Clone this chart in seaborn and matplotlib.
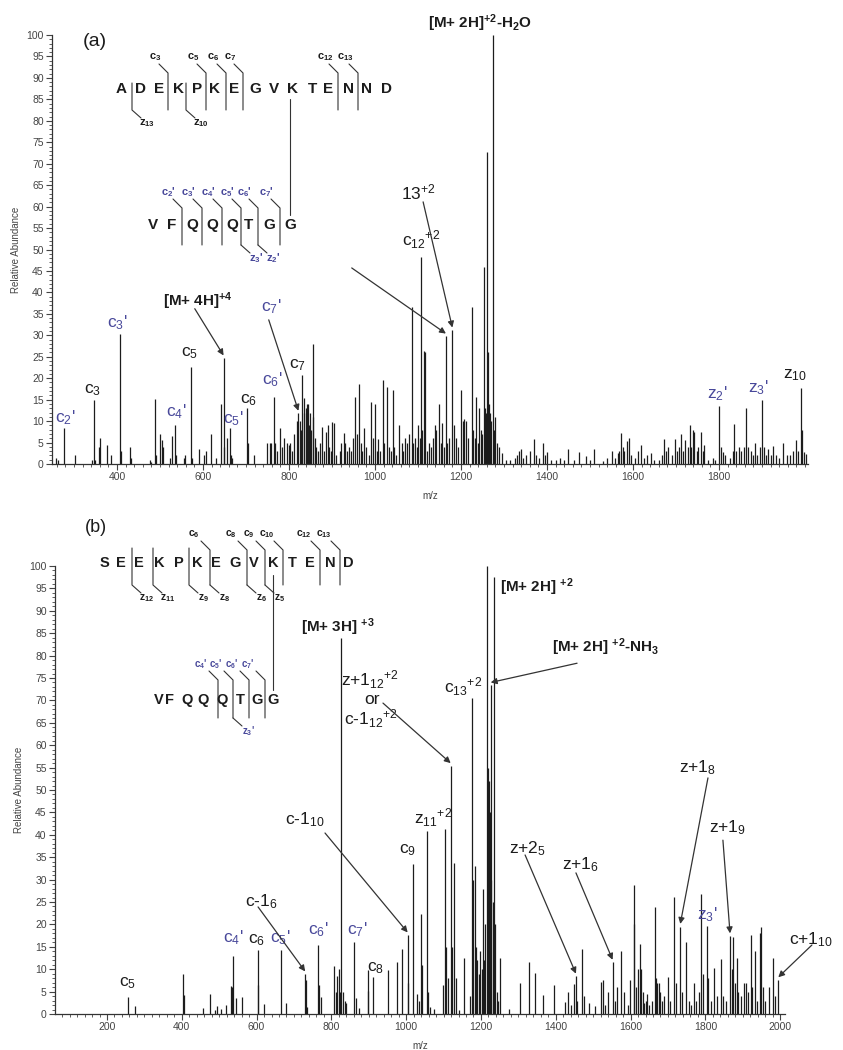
import numpy as np
import pandas as pd
import matplotlib
matplotlib.use("Agg")
import matplotlib.pyplot as plt
from matplotlib.lines import Line2D
from matplotlib.ticker import MultipleLocator, FixedLocator
import seaborn as sns

# panel (a): m/z and relative abundance of the sticks
mz_a = [259, 263, 277, 302, 343, 346, 349, 358, 360, 376, 386, 407, 409, 430, 432, 477, 480,
        489, 491, 500, 505, 507, 523, 528, 535, 537, 556, 558, 573, 575, 591, 602, 608, 619, 631,
        643, 648, 650, 657, 662, 665, 668, 703, 705, 719, 748, 755, 759, 765, 767, 773, 779, 783,
        789, 795, 800, 803, 808, 812, 819, 822, 826, 828, 831, 834, 836, 839, 841, 844, 846, 849,
        852, 855, 857, 860, 864, 868, 873, 878, 882, 885, 890, 893, 897, 901, 905, 910, 918, 922,
        927, 931, 935, 940, 945, 950, 954, 958, 963, 967, 971, 975, 980, 985, 991, 995, 1000,
        1004, 1008, 1012, 1018, 1022, 1028, 1033, 1037, 1041, 1045, 1050, 1057, 1062, 1066, 1070,
        1075, 1080, 1085, 1088, 1093, 1097, 1100, 1104, 1108, 1110, 1113, 1116, 1120, 1125, 1130,
        1135, 1140, 1143, 1149, 1153, 1156, 1160, 1165, 1168, 1172, 1180, 1184, 1188, 1193, 1200,
        1204, 1208, 1212, 1216, 1225, 1228, 1232, 1236, 1240, 1243, 1246, 1249, 1253, 1256, 1258,
        1261, 1263, 1266, 1268, 1270, 1274, 1277, 1279, 1283, 1288, 1296, 1305, 1315, 1325, 1330,
        1336, 1340, 1345, 1352, 1360, 1370, 1375, 1382, 1390, 1395, 1400, 1410, 1420, 1430, 1440,
        1450, 1462, 1475, 1490, 1500, 1509, 1530, 1540, 1551, 1558, 1565, 1568, 1573, 1576, 1580,
        1585, 1591, 1595, 1605, 1612, 1618, 1625, 1632, 1641, 1650, 1660, 1667, 1673, 1677, 1682,
        1690, 1697, 1703, 1708, 1712, 1717, 1721, 1728, 1732, 1736, 1740, 1743, 1748, 1752, 1758,
        1762, 1766, 1775, 1785, 1790, 1801, 1804, 1810, 1815, 1825, 1832, 1836, 1840, 1846, 1852,
        1858, 1863, 1868, 1875, 1880, 1884, 1889, 1895, 1900, 1904, 1910, 1915, 1920, 1925, 1932,
        1940, 1950, 1958, 1965, 1972, 1979, 1984, 1990, 1993, 1998, 2003]
int_a = [1.4, 1.0, 8.4, 2.0, 1.0, 15.0, 1.0, 4.0, 6.0, 4.5, 2.0, 30.3, 3.0, 4.0, 1.5, 1.0, 0.5,
         15.2, 2.0, 7.0, 5.5, 4.0, 1.5, 6.5, 9.2, 2.0, 1.5, 2.0, 22.5, 1.5, 3.5, 2.0, 3.0, 7.0, 1.5,
         14.0, 24.7, 4.0, 6.0, 8.5, 2.0, 1.5, 13.0, 5.0, 2.0, 5.0, 5.0, 5.0, 15.7, 5.0, 3.0, 8.5, 4.0,
         6.0, 5.0, 4.5, 5.0, 3.0, 7.0, 10.0, 11.8, 10.0, 8.0, 20.8, 12.0, 15.3, 13.0, 14.0, 14.0, 9.0, 12.0,
         8.0, 28.0, 11.0, 6.0, 4.0, 3.0, 5.0, 8.7, 3.0, 7.5, 9.0, 4.0, 3.0, 9.8, 9.5, 2.0, 3.0, 5.0,
         7.3, 5.0, 3.0, 4.0, 3.0, 6.0, 15.7, 7.0, 18.7, 5.0, 3.0, 8.3, 4.0, 2.0, 14.5, 6.0, 14.0,
         3.0, 5.8, 3.0, 19.5, 5.0, 18.0, 4.0, 3.0, 17.3, 4.0, 2.0, 9.0, 5.0, 3.0, 6.0,
         5.0, 7.0, 36.5, 5.0, 6.0, 4.0, 9.2, 6.0, 48.3, 8.0, 26.4, 26.0, 3.0, 5.0, 4.0,
         6.0, 9.0, 8.0, 14.0, 5.0, 9.5, 4.0, 29.8, 5.0, 6.0, 31.2, 9.0, 6.0, 4.0, 17.3,
         10.0, 10.5, 10.0, 6.0, 36.7, 8.0, 6.0, 15.6, 5.0, 13.0, 8.0, 7.0, 46.0, 13.0, 12.0,
         72.8, 26.0, 14.0, 12.0, 10.0, 100.0, 8.0, 11.0, 5.0, 4.0, 2.5, 1.0, 1.0, 1.5, 2.0,
         3.0, 3.5, 1.5, 2.0, 3.0, 5.8, 2.0, 1.5, 4.8, 2.0, 2.8, 1.0, 1.0, 1.5, 1.0,
         3.5, 1.0, 2.8, 1.8, 1.0, 3.6, 0.8, 1.5, 3.0, 1.5, 2.5, 3.0, 7.2, 4.0, 3.0,
         5.3, 6.0, 2.0, 1.5, 3.0, 4.5, 1.5, 2.0, 2.5, 1.0, 1.0, 2.0, 5.8, 3.0, 4.0,
         2.0, 5.8, 3.0, 4.0, 7.0, 3.0, 5.6, 4.0, 9.1, 4.0, 8.0, 7.5, 3.0, 4.0, 7.5,
         3.0, 4.5, 1.0, 1.5, 1.0, 13.5, 4.0, 2.8, 2.0, 1.5, 3.0, 9.3, 3.0, 4.0, 3.0,
         4.0, 13.1, 4.0, 3.0, 2.0, 5.0, 2.0, 4.0, 14.9, 4.0, 2.0, 3.6, 2.0, 4.2, 2.0,
         1.5, 5.0, 2.0, 2.0, 3.0, 5.5, 3.0, 17.8, 8.0, 2.8, 2.3]

# panel (b)
mz_b = [255, 275, 402, 405, 456, 475, 490, 495, 505, 517, 531, 533, 537, 545, 560, 604, 605, 620,
        664, 680, 730, 732, 734, 765, 767, 773, 806, 812, 815, 820, 822, 827, 831, 836, 840, 861,
        865, 875, 897, 899, 910, 951, 975, 990, 1004, 1006, 1018, 1030, 1035, 1040, 1043, 1055,
        1058, 1065, 1075, 1098, 1104, 1107, 1112, 1119, 1122, 1128, 1133, 1140, 1155, 1170, 1176,
        1180, 1183, 1186, 1190, 1194, 1198, 1202, 1206, 1209, 1212, 1215, 1219, 1222, 1224, 1226,
        1228, 1231, 1234, 1238, 1242, 1245, 1252, 1275, 1304, 1329, 1345, 1367, 1395, 1425, 1433,
        1440, 1448, 1454, 1458, 1470, 1475, 1490, 1505, 1520, 1526, 1533, 1540, 1552, 1558, 1564,
        1574, 1583, 1592, 1598, 1608, 1610, 1614, 1620, 1625, 1628, 1632, 1636, 1640, 1645, 1650,
        1658, 1665, 1668, 1672, 1676, 1680, 1685, 1690, 1699, 1705, 1717, 1722, 1733, 1738, 1748,
        1755, 1762, 1770, 1775, 1783, 1789, 1793, 1805, 1808, 1815, 1823, 1830, 1841, 1848, 1855,
        1866, 1870, 1874, 1879, 1884, 1888, 1895, 1903, 1908, 1915, 1922, 1926, 1932, 1937, 1945,
        1949, 1953, 1960, 1970, 1980, 1985, 1995]
int_b = [3.7, 1.8, 8.9, 4.3, 1.3, 4.5, 1.0, 1.7, 1.2, 2.0, 6.2, 6.0, 13.0, 3.5, 3.7, 6.5, 14.3, 2.2,
         14.2, 2.5, 8.9, 7.5, 1.5, 15.4, 6.5, 3.7, 10.7, 5.0, 8.5, 10.0, 5.0, 84.0, 5.0, 3.0, 2.5, 16.1,
         3.5, 1.3, 9.8, 5.2, 8.3, 9.8, 11.5, 14.6, 17.6, 7.0, 33.4, 4.5, 3.0, 22.3, 11.0, 40.8,
         5.0, 1.5, 1.2, 6.5, 41.3, 15.0, 8.0, 55.4, 15.0, 33.6, 8.0, 1.0, 12.6, 4.0, 70.5,
         30.0, 33.0, 15.0, 12.0, 9.0, 14.0, 10.0, 28.0, 12.0, 20.0, 100.0, 55.0, 52.0, 45.0, 73.4,
         30.0, 25.0, 97.6, 20.0, 5.0, 3.0, 12.4, 1.2, 7.0, 11.7, 9.2, 4.3, 6.4, 2.6, 5.0,
         2.0, 6.8, 8.4, 3.0, 14.4, 4.0, 2.5, 1.8, 7.2, 7.7, 2.0, 5.0, 11.5, 3.0, 6.0,
         14.0, 5.0, 2.0, 7.5, 28.8, 20.0, 6.0, 10.0, 15.7, 10.0, 5.0, 2.5, 3.0, 4.5, 2.0,
         3.0, 23.8, 8.0, 7.0, 7.0, 5.0, 3.0, 4.0, 8.3, 3.0, 26.2, 7.0, 19.5, 5.0, 16.1,
         3.0, 2.0, 7.0, 3.0, 5.0, 26.8, 9.0, 19.7, 8.0, 3.0, 10.3, 4.0, 12.3, 4.0, 3.0,
         17.4, 10.0, 17.2, 7.0, 12.5, 5.0, 4.0, 7.0, 7.0, 5.0, 17.6, 6.0, 14.0, 3.0, 18.0,
         19.5, 6.0, 3.0, 6.0, 12.6, 4.0, 7.6]

seq_a_top = list("ADEKPKEGVKTENND")
seq_a_link = list("VFQQQTGG")
seq_b_top = list("SEEKPKEGVKTEND")
seq_b_link = list("VFQQQTGG")

W, H = 843, 1050
INK = "#1c1c1c"
BLUE = "#48489a"
GREY = "#333333"


def fig_line(fig, pts, color=GREY, lw=0.8):
    xs = [p[0] / W for p in pts]
    ys = [1 - p[1] / H for p in pts]
    fig.add_artist(Line2D(xs, ys, transform=fig.transFigure, color=color, lw=lw))


def fig_text(fig, px, py, s, **kw):
    fig.text(px / W, 1 - py / H, s, ha=kw.pop("ha", "center"), va=kw.pop("va", "center"), **kw)


def peptide(fig, letters, xs, y, fs):
    for s, x in zip(letters, xs):
        fig_text(fig, x, y, s, fontsize=fs, fontweight="bold", color=INK)


def c_cut(fig, x, top, bottom, label, color=INK, dx=-15, fs=8):
    fig_line(fig, [(x - 9, top - 9), (x, top), (x, bottom)])
    fig_text(fig, x + dx, top - 16, label, fontsize=fs, fontweight="bold", color=color)


def z_cut(fig, x, top, bottom, label, color=INK, fs=8):
    fig_line(fig, [(x, top), (x, bottom), (x + 9, bottom + 8)])
    fig_text(fig, x + 15, bottom + 13, label, fontsize=fs, fontweight="bold", color=color)


def peak_tip(mzs, ints, target):
    i = int(np.argmin(np.abs(np.asarray(mzs) - target)))
    return mzs[i], ints[i] + 0.6


def arrow(ax, start, mzs, ints, target):
    ax.annotate("", xy=peak_tip(mzs, ints, target), xytext=start,
                arrowprops=dict(arrowstyle="-|>", color=GREY, lw=0.9, mutation_scale=9,
                                shrinkA=0, shrinkB=0), annotation_clip=False)


def style_axis(ax, xlim, xticks):
    ax.set_xlim(*xlim)
    ax.set_ylim(0, 100)
    ax.xaxis.set_major_locator(FixedLocator(xticks))
    ax.xaxis.set_minor_locator(MultipleLocator(20))
    ax.yaxis.set_major_locator(MultipleLocator(5))
    ax.yaxis.set_minor_locator(MultipleLocator(1))
    ax.tick_params(which="major", length=4, width=0.8, labelsize=7.5, colors="#444444", pad=2)
    ax.tick_params(which="minor", length=2.5, width=0.6, colors="#444444")
    ax.set_ylabel("Relative Abundance", fontsize=7, color="#444444", labelpad=4)
    ax.set_xlabel("m/z", fontsize=7, color="#444444", labelpad=6)
    sns.despine(ax=ax)
    for sp in ("left", "bottom"):
        ax.spines[sp].set_color("#333333")
        ax.spines[sp].set_linewidth(0.9)


def label(ax, s, x, y, color=INK, fs=12.5, weight="normal"):
    ax.text(x, y, s, ha="center", va="center", fontsize=fs, color=color,
            fontweight=weight, clip_on=False)


def main():
    sns.set_theme(style="ticks")
    plt.rcParams["font.family"] = ["Liberation Sans", "DejaVu Sans"]
    plt.rcParams["mathtext.default"] = "regular"

    df_a = pd.DataFrame({"mz": mz_a, "abundance": int_a})
    df_b = pd.DataFrame({"mz": mz_b, "abundance": int_b})

    fig = plt.figure(figsize=(W / 100, H / 100), dpi=100)
    ax_a = fig.add_axes([52 / W, 1 - 464 / H, 756 / W, 429 / H])
    ax_b = fig.add_axes([55 / W, 1 - 1014 / H, 730 / W, 448 / H])

    ax_a.vlines(df_a["mz"], 0, df_a["abundance"], color=INK, lw=0.9)
    ax_b.vlines(df_b["mz"], 0, df_b["abundance"], color=INK, lw=0.9)
    style_axis(ax_a, (249, 2007), range(400, 1801, 200))
    style_axis(ax_b, (61, 2013), range(200, 2001, 200))

    # ---- panel (a) ----
    fig_text(fig, 83, 42, "(a)", ha="left", fontsize=14, color=INK)
    peptide(fig, seq_a_top, [121, 141, 159, 179, 197, 215, 234, 255, 274, 292, 312, 328, 348, 367, 387], 89, 11)
    for x, s in [(168, "3"), (206, "5"), (226, "6"), (243, "7"), (338, "12"), (358, "13")]:
        c_cut(fig, x, 73, 110, "c$_{%s}$" % s, dx=-13)
    for x, s in [(132, "13"), (186, "10")]:
        z_cut(fig, x, 83, 110, "z$_{%s}$" % s)
    fig_line(fig, [(290, 99), (290, 215)])
    peptide(fig, seq_a_link, [153, 172, 192, 212, 232, 249, 269, 290], 225, 11)
    for x, s in zip([182, 202, 222, 241, 258, 280], "234567"):
        c_cut(fig, x, 208, 245, "c$_{%s}$'" % s, color=BLUE, dx=-14)
    z_cut(fig, 241, 245, 245, "z$_3$'", color=BLUE)
    z_cut(fig, 258, 245, 245, "z$_2$'", color=BLUE)

    for s, x, y, c in [("c$_2$'", 279, 10.7, BLUE), ("c$_3$", 344, 17.2, INK),
                       ("c$_3$'", 400, 32.9, BLUE), ("c$_4$'", 537, 12.1, BLUE),
                       ("c$_5$", 570, 25.9, INK), ("c$_5$'", 670, 10.5, BLUE),
                       ("c$_6$", 705, 14.9, INK), ("c$_6$'", 760, 19.6, BLUE),
                       ("c$_7$", 821, 23.0, INK), ("c$_7$'", 758, 36.6, BLUE),
                       ("z$_2$'", 1795, 16.5, BLUE), ("z$_3$'", 1891, 17.7, BLUE),
                       ("z$_{10}$", 1977, 20.7, INK), ("13$^{+2}$", 1100, 63.2, INK),
                       ("c$_{12}$$^{+2}$", 1107, 52.2, INK)]:
        label(ax_a, s, x, y, c)
    label(ax_a, "[M+ 4H]$^{+4}$", 588, 38.0, fs=11, weight="bold")
    label(ax_a, "[M+ 2H]$^{+2}$-H$_2$O", 1244, 102.8, fs=11, weight="bold")
    arrow(ax_a, (1112, 61.1), mz_a, int_a, 1180)
    arrow(ax_a, (946, 45.7), mz_a, int_a, 1165)
    arrow(ax_a, (581, 36.2), mz_a, int_a, 648)
    arrow(ax_a, (753, 33.6), mz_a, int_a, 822)

    # ---- panel (b) ----
    fig_text(fig, 85, 527, "(b)", ha="left", fontsize=13, color=INK)
    peptide(fig, seq_b_top, [104, 121, 139, 159, 179, 197, 216, 235, 254, 273, 292, 310, 330, 348], 563, 10.5)
    for x, s in [(210, "6"), (247, "8"), (265, "9"), (283, "10"), (320, "12"), (340, "13")]:
        c_cut(fig, x, 550, 585, "c$_{%s}$" % s, dx=-16, fs=7.5)
    for x, s in [(132, "12"), (153, "11"), (189, "9")]:
        z_cut(fig, x, 548, 585, "z$_{%s}$" % s, fs=7.5)
    for x, s in [(210, "8"), (247, "6"), (265, "5")]:
        z_cut(fig, x, 585, 585, "z$_{%s}$" % s, fs=7.5)
    fig_line(fig, [(273, 575), (273, 690)])
    peptide(fig, seq_b_link, [159, 170, 187, 203, 222, 240, 257, 273], 700, 10.5)
    for x, s in zip([218, 233, 249, 265], "4567"):
        c_cut(fig, x, 680, 718, "c$_{%s}$'" % s, color=BLUE, dx=-17, fs=7)
    z_cut(fig, 233, 718, 718, "z$_3$'", color=BLUE, fs=7)

    for s, x, y, c in [("c$_5$", 256, 6.9, INK), ("c$_4$'", 537, 17.0, BLUE),
                       ("c$_6$", 601, 16.5, INK), ("c$_5$'", 663, 17.0, BLUE),
                       ("c$_6$'", 764, 18.8, BLUE), ("c$_7$'", 869, 18.8, BLUE),
                       ("c$_8$", 917, 10.3, INK), ("c$_9$", 1005, 36.6, INK),
                       ("c-1$_{10}$", 730, 43.3, INK), ("c-1$_6$", 612, 25.0, INK),
                       ("z$_{11}$$^{+2}$", 1072, 43.8, INK), ("z+1$_{12}$$^{+2}$", 903, 74.6, INK),
                       ("or", 909, 70.1, INK), ("c-1$_{12}$$^{+2}$", 905, 66.0, INK),
                       ("c$_{13}$$^{+2}$", 1151, 73.0, INK), ("z+2$_5$", 1323, 37.0, INK),
                       ("z+1$_6$", 1465, 33.3, INK), ("z+1$_8$", 1778, 54.9, INK),
                       ("z+1$_9$", 1858, 41.5, INK), ("z$_3$'", 1805, 22.1, BLUE),
                       ("c+1$_{10}$", 2083, 16.5, INK)]:
        label(ax_b, s, x, y, c)
    label(ax_b, "[M+ 3H] $^{+3}$", 818, 86.4, fs=11, weight="bold")
    label(ax_b, "[M+ 2H] $^{+2}$", 1350, 95.3, fs=11, weight="bold")
    label(ax_b, "[M+ 2H] $^{+2}$-NH$_3$", 1532, 81.9, fs=11, weight="bold")
    arrow(ax_b, (938, 69.4), mz_b, int_b, 1119)
    arrow(ax_b, (1457, 78.3), mz_b, int_b, 1226)
    arrow(ax_b, (783, 40.4), mz_b, int_b, 1004)
    arrow(ax_b, (604, 23.9), mz_b, int_b, 730)
    arrow(ax_b, (1318, 35.5), mz_b, int_b, 1454)
    arrow(ax_b, (1454, 31.5), mz_b, int_b, 1552)
    arrow(ax_b, (1807, 52.7), mz_b, int_b, 1733)
    arrow(ax_b, (1847, 38.8), mz_b, int_b, 1866)
    arrow(ax_b, (2085, 15.4), mz_b, int_b, 1995)

    fig.savefig("out.png", dpi=100)


if __name__ == "__main__":
    main()
